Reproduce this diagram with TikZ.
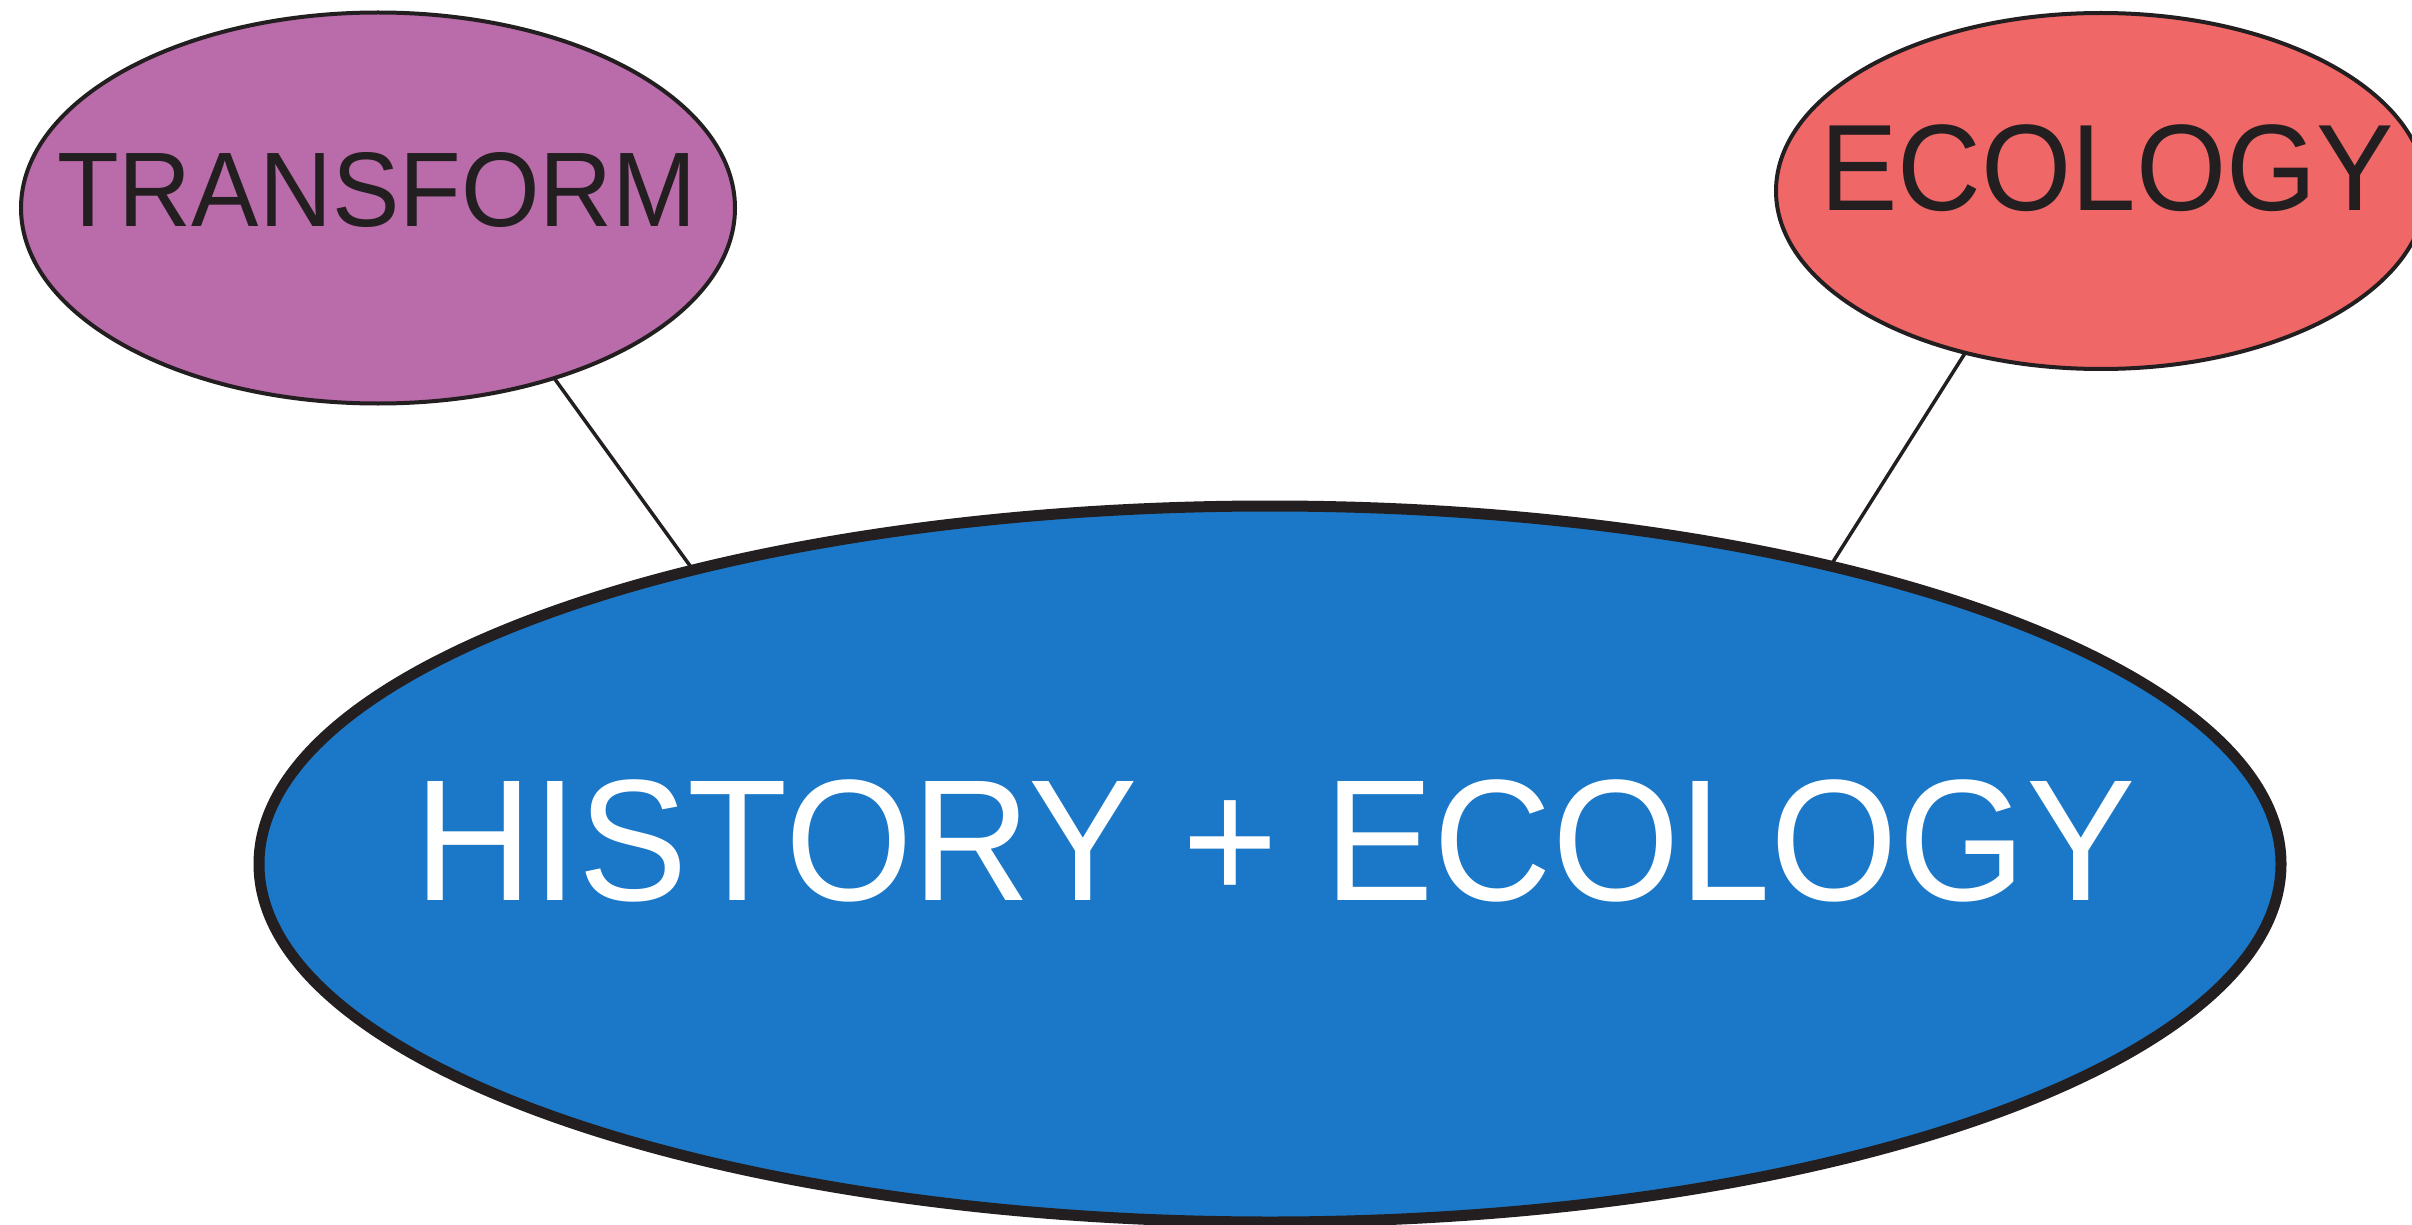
\documentclass[tikz,border=0pt]{standalone}
\usepackage{fontspec}
\setmainfont{Liberation Sans}
\usetikzlibrary{shapes.geometric}
\definecolor{inkc}{HTML}{231F20}
\definecolor{purplec}{HTML}{BA6BAA}
\definecolor{redc}{HTML}{F06767}
\definecolor{bluec}{HTML}{1B78C8}
\tikzset{
  bubble/.style={ellipse, draw=inkc, inner sep=0pt, outer sep=0pt},
  label text/.style={inner sep=0pt, anchor=base},
  link/.style={draw=inkc, line width=3.5pt}
}
\begin{document}
\begin{tikzpicture}[x=1pt, y=-1pt]
\useasboundingbox (0,0) rectangle (2412,1225);
\fill[white] (0,0) rectangle (2412,1225);
% ellipses
\node[bubble, fill=purplec, line width=4pt, minimum width=714pt, minimum height=391pt] (tr) at (378,208) {};
\node[bubble, fill=redc, line width=4pt, minimum width=650pt, minimum height=356pt] (ec) at (2101,191) {};
\node[bubble, fill=bluec, line width=11pt, minimum width=2022pt, minimum height=716pt] (hist) at (1270,864) {};
% texts
\node[label text, text=inkc, font=\fontsize{101}{110}\selectfont] (trt) at (377,226) {\scalebox{1}[1.05]{TRANSFORM}};
\node[label text, text=inkc, font=\fontsize{116}{125}\selectfont] (ect) at (2107,211) {\scalebox{1}[1.06]{ECOLOGY}};
\node[label text, text=white, font=\fontsize{164}{175}\selectfont] (histt) at (1275,900) {\scalebox{1}[1.055]{HISTORY + ECOLOGY}};
% connectors
\draw[link] (tr.-44) -- (hist.153.9);
\draw[link] (ec.230.5) -- (hist.28.2);
\end{tikzpicture}
\end{document}
